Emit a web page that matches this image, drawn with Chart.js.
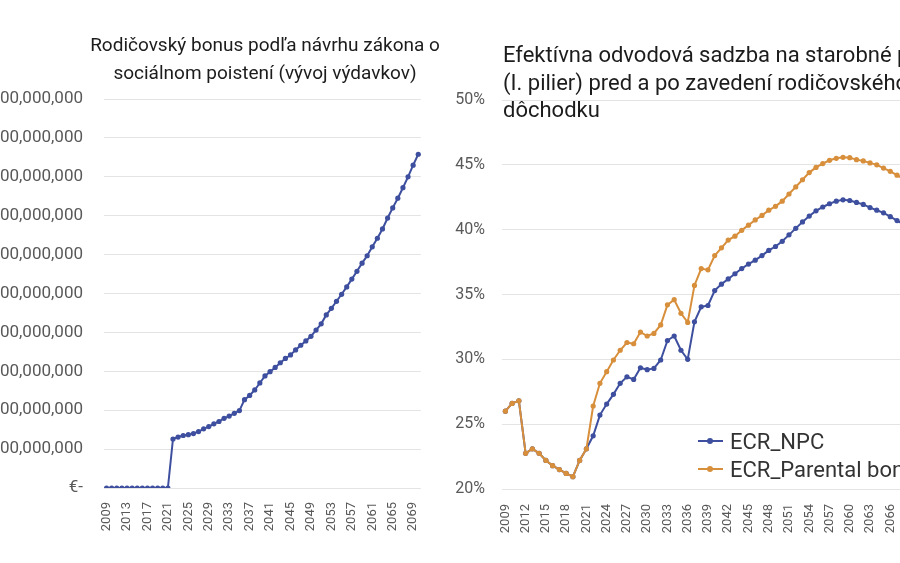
<!DOCTYPE html>
<html>
<head>
<meta charset="utf-8">
<script src="https://cdn.jsdelivr.net/npm/chart.js@4.4.1/dist/chart.umd.min.js"></script>
<style>
	body { margin: 0; width: 900px; height: 563px; overflow: hidden; background: #fff; position: relative; font-family: Roboto, "Noto Sans", sans-serif; }
	canvas { position: absolute; top: 0; }
	#spending-chart { left: -60px; }
	#rate-chart { left: 440px; }
	.title { position: absolute; color: #1c1c1c; font-size: 19px; line-height: 28px; white-space: nowrap; }
	#spending-title { left: 50px; width: 430px; top: 31px; text-align: center; }
	#rate-title { left: 503px; top: 41px; font-size: 22px; line-height: 27.5px; }
	#rate-legend { position: absolute; left: 698px; top: 427px; font-size: 22px; color: #333; }
	.legend-item { display: flex; align-items: center; height: 28px; white-space: nowrap; }
	.legend-mark { position: relative; width: 25px; height: 10px; margin-right: 7px; }
	.legend-mark .line { position: absolute; left: 0; right: 0; top: 4px; height: 2px; }
	.legend-mark .dot { position: absolute; left: 9px; top: 2px; width: 6px; height: 6px; border-radius: 50%; }
</style>
</head>
<body>
<canvas id="spending-chart" width="500" height="563"></canvas>
<canvas id="rate-chart" width="500" height="563"></canvas>
<div class="title" id="spending-title">Rodičovský bonus podľa návrhu zákona o<br>sociálnom poistení (vývoj výdavkov)</div>
<div class="title" id="rate-title">Efektívna odvodová sadzba na starobné poistenie<br>(I. pilier) pred a po zavedení rodičovského<br>dôchodku</div>
<div id="rate-legend"></div>
<script>
const years = [
	"2009","2010","2011","2012","2013","2014","2015","2016","2017","2018","2019","2020","2021",
	"2022","2023","2024","2025","2026","2027","2028","2029","2030","2031","2032","2033","2034","2035","2036",
	"2037","2038","2039","2040","2041","2042","2043","2044","2045","2046","2047","2048","2049","2050",
	"2051","2052","2053","2054","2055","2056","2057","2058","2059","2060",
	"2061","2062","2063","2064","2065","2066","2067","2068","2069","2070"
];

// bonus spending, millions of EUR
const spendingMillions = [
	0, 0, 0, 0, 0, 0, 0, 0, 0, 0, 0, 0, 0,
	126, 131, 135, 137, 140, 145, 152, 158, 165, 171, 179, 185, 192, 199, 227,
	238, 252, 270, 288, 299, 310, 322, 333, 342, 355, 367, 378, 390, 406,
	422, 445, 462, 480, 498, 517, 537, 557, 578, 597,
	620, 642, 666, 694, 720, 745, 772, 800, 830, 858
];

// effective contribution rate, %
const ecrNpc = [
	26.0, 26.6, 26.8, 22.75, 23.1, 22.75, 22.2, 21.8, 21.5, 21.2, 20.95, 22.2, 23.1,
	24.1, 25.7, 26.55, 27.3, 28.15, 28.65, 28.45, 29.35, 29.2, 29.3, 29.95, 31.45, 31.8, 30.7, 30.0,
	32.9, 34.05, 34.15, 35.3, 35.8, 36.2, 36.6, 37.0, 37.35, 37.65, 38.0, 38.4, 38.7, 39.1,
	39.6, 40.1, 40.6, 41.05, 41.45, 41.75, 42.0, 42.2, 42.3, 42.25,
	42.1, 41.95, 41.7, 41.5, 41.3, 41.0, 40.7, 40.4, 40.1, 39.8
];
const ecrParental = [
	26.0, 26.6, 26.8, 22.75, 23.1, 22.75, 22.2, 21.8, 21.5, 21.2, 20.95, 22.2, 23.1,
	26.4, 28.15, 29.05, 29.95, 30.7, 31.3, 31.2, 32.1, 31.8, 32.0, 32.65, 34.2, 34.6, 33.55, 32.85,
	35.7, 37.0, 36.9, 38.0, 38.6, 39.2, 39.5, 39.95, 40.35, 40.75, 41.1, 41.5, 41.8, 42.2,
	42.75, 43.3, 43.85, 44.4, 44.8, 45.1, 45.35, 45.5, 45.58, 45.55,
	45.4, 45.3, 45.15, 45.0, 44.75, 44.5, 44.2, 43.9, 43.6, 43.3
];

const spendingTickYears = ["2009","2013","2017","2021","2025","2029","2033","2037","2041","2045","2049","2053","2057","2061","2065","2069"];
const rateTickYears = ["2009","2012","2015","2018","2021","2024","2027","2030","2033","2036","2039","2042","2045","2048","2051","2054","2057","2060","2063","2066","2069"];

const blue = "#3d4f9e";
const orange = "#d88f3c";
const gridColor = "#e4e4e4";
const tickColor = "#595959";

function xAxis(tickYears, height, padding) {
	return {
		offset: true,
		grid: { display: false },
		border: { display: false },
		ticks: {
			autoSkip: false,
			maxRotation: 90,
			minRotation: 90,
			padding: padding,
			color: tickColor,
			font: { family: "Roboto", size: 13 },
			callback: function (val, i) {
				return tickYears.includes(years[i]) ? years[i] : "";
			}
		},
		afterFit: function (scale) { scale.height = height; }
	};
}

function lineSet(label, data, color, order) {
	return {
		label: label,
		data: data,
		order: order,
		borderColor: color,
		backgroundColor: color,
		borderWidth: 2,
		pointRadius: 2.6,
		pointBorderWidth: 0,
		pointBackgroundColor: color,
		tension: 0
	};
}

new Chart(document.getElementById("spending-chart").getContext("2d"), {
	type: "line",
	data: {
		labels: years,
		datasets: [lineSet("Rodičovský bonus", spendingMillions, blue, 0)]
	},
	options: {
		responsive: false,
		animation: false,
		layout: { padding: { top: 99, right: 17 } },
		plugins: { legend: { display: false }, tooltip: { enabled: false } },
		scales: {
			x: xAxis(spendingTickYears, 75, 6),
			y: {
				min: 0,
				max: 1000,
				grid: { color: gridColor, drawTicks: false },
				border: { display: false },
				ticks: {
					stepSize: 100,
					padding: 21,
					color: tickColor,
					font: { family: "Roboto", size: 17 },
					callback: function (v) {
						return v === 0 ? "€-" : "€ " + (v * 1e6).toLocaleString("en-US");
					}
				},
				afterFit: function (scale) { scale.width = 164; }
			}
		}
	}
});

const rateChart = new Chart(document.getElementById("rate-chart").getContext("2d"), {
	type: "line",
	data: {
		labels: years,
		datasets: [
			lineSet("ECR_NPC", ecrNpc, blue, 1),
			lineSet("ECR_Parental bonus", ecrParental, orange, 0)
		]
	},
	options: {
		responsive: false,
		animation: false,
		layout: { padding: { top: 100, right: 13 } },
		plugins: { legend: { display: false }, tooltip: { enabled: false } },
		scales: {
			x: xAxis(rateTickYears, 74, 7),
			y: {
				min: 20,
				max: 50,
				grid: { color: gridColor, drawTicks: false },
				border: { display: false },
				ticks: {
					stepSize: 5,
					padding: 17,
					color: tickColor,
					font: { family: "Roboto", size: 16 },
					callback: function (v) { return v + "%"; }
				},
				afterFit: function (scale) { scale.width = 62; }
			}
		}
	}
});

// legend drawn over the plot, as in the source
const legendBox = document.getElementById("rate-legend");
rateChart.data.datasets.forEach(function (ds) {
	const item = document.createElement("div");
	item.className = "legend-item";
	item.innerHTML = '<span class="legend-mark"><span class="line" style="background:' + ds.borderColor +
		'"></span><span class="dot" style="background:' + ds.borderColor + '"></span></span>';
	item.appendChild(document.createTextNode(ds.label));
	legendBox.appendChild(item);
});
</script>
</body>
</html>
